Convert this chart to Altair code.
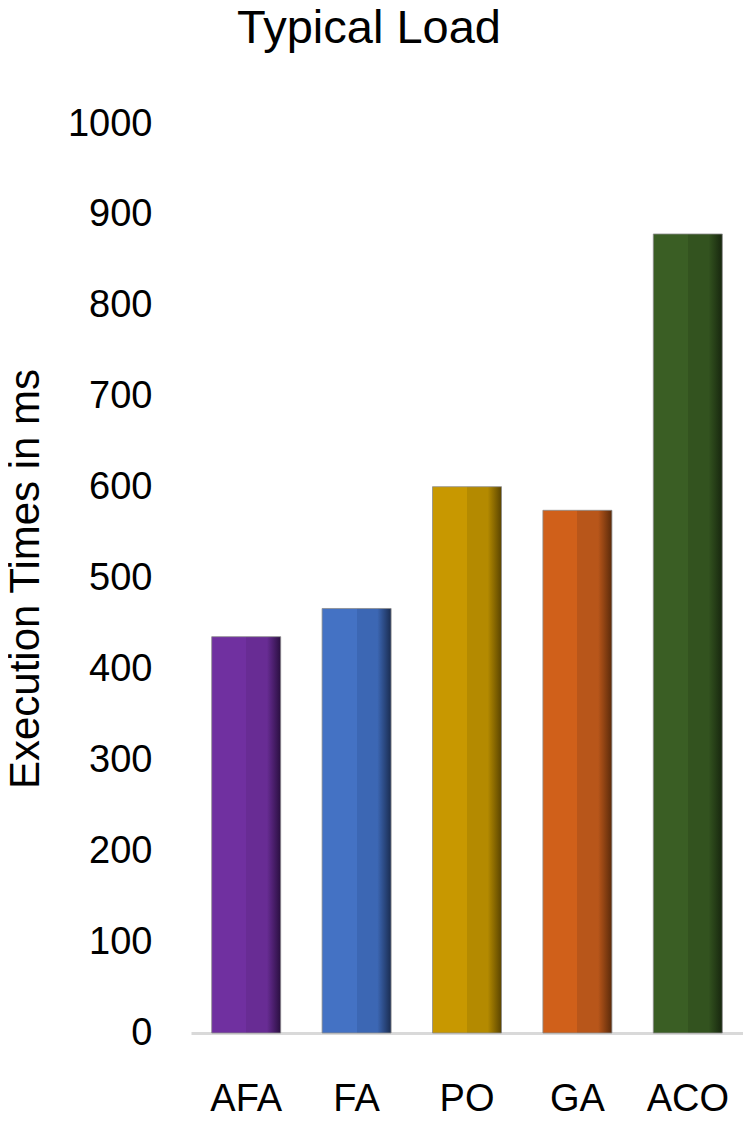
import altair as alt
import pandas as pd

categories = ["AFA", "FA", "PO", "GA", "ACO"]
values = [436, 467, 601, 575, 879]
base_colors = ["#7030a0", "#4472c4", "#c89800", "#d0601a", "#3a5e24"]
mid_colors = ["#682c94", "#3c67b4", "#b48a00", "#b8561a", "#33531f"]
edge_colors = ["#2a0f40", "#1a2c50", "#5a4400", "#5a2a0a", "#17260e"]
chart_title = ["Typical Load"]

df = pd.DataFrame({"cat": categories, "val": values})

x_enc = alt.X("cat:N", sort=categories, title=None,
              scale=alt.Scale(paddingInner=0.375, paddingOuter=0.1875),
              axis=alt.Axis(labelAngle=0, labelFontSize=38, labelFont="Liberation Sans",
                            labelColor="#000000", ticks=False, domainColor="#d9d9d9",
                            domainWidth=3, labelPadding=47))
y_enc = alt.Y("val:Q", title="Execution Times in ms",
              scale=alt.Scale(domain=[0, 1000], nice=False),
              axis=alt.Axis(values=list(range(0, 1001, 100)), format="d",
                            labelFontSize=38,
                            labelFont="Liberation Sans", labelColor="#000000",
                            ticks=False, domain=False, grid=False, labelPadding=39,
                            titleFontSize=42, titleFont="Liberation Sans",
                            titleFontWeight="normal", titleColor="#000000",
                            titlePadding=20))

layers = []
for i, c in enumerate(categories):
    grad = alt.LinearGradient(
        gradient="linear", x1=0, x2=1, y1=0, y2=0,
        stops=[
            alt.GradientStop(offset=0, color=base_colors[i]),
            alt.GradientStop(offset=0.5, color=base_colors[i]),
            alt.GradientStop(offset=0.5, color=mid_colors[i]),
            alt.GradientStop(offset=0.8, color=mid_colors[i]),
            alt.GradientStop(offset=1, color=edge_colors[i]),
        ],
    )
    layers.append(
        alt.Chart(df).transform_filter(alt.datum.cat == c)
        .mark_bar(color=grad, stroke="#8c8c8c", strokeWidth=0.8)
        .encode(x=x_enc, y=y_enc)
    )

title_layer = alt.Chart(pd.DataFrame({"t": chart_title})).mark_text(
    fontSize=47, font="Liberation Sans", color="#000000", align="center",
    baseline="alphabetic"
).encode(text="t:N", x=alt.value(178), y=alt.value(-81))

chart = alt.layer(*layers, title_layer).properties(
    width=552, height=909,
    autosize=alt.AutoSizeParams(type="none"),
    padding={"left": 183, "top": 116, "right": 0, "bottom": 85},
).configure_view(stroke=None)

chart.save("out.html", embed_options={"renderer": "svg", "actions": False})
